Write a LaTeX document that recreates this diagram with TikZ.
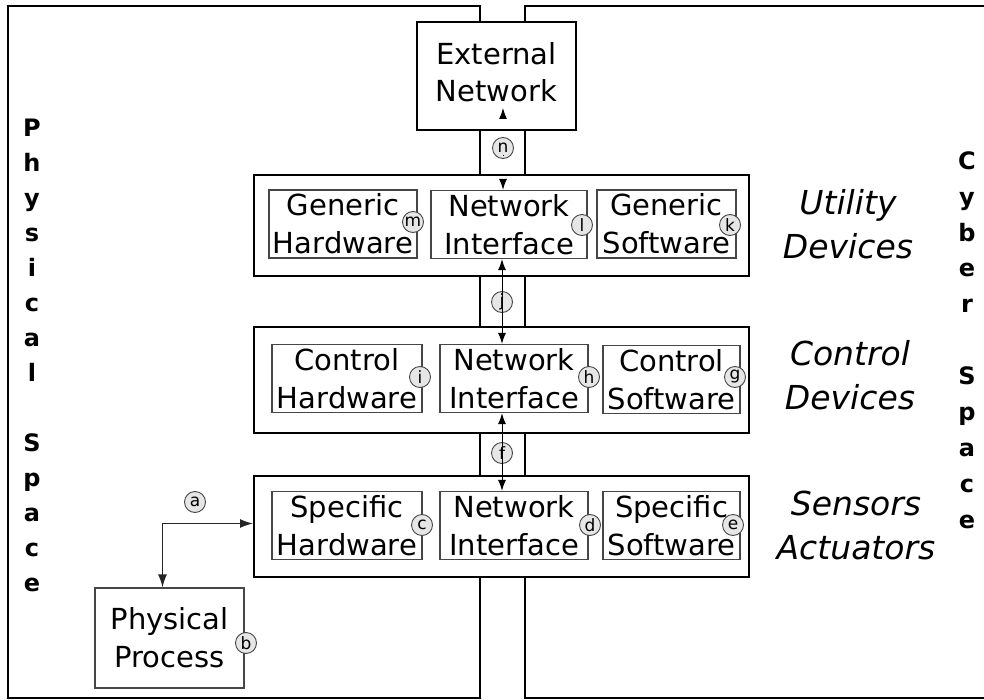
\documentclass[tikz,border=0pt]{standalone}
\usepackage{fontspec}
\setmainfont{DejaVu Sans}
\usetikzlibrary{arrows.meta}
\definecolor{tagGray}{RGB}{230,230,230}
\definecolor{lineGray}{RGB}{70,70,70}

\begin{document}
\begin{tikzpicture}[x=1pt,y=-1pt,
  layer/.style={draw,line width=2pt,fill=white,minimum width=495pt,inner sep=0pt},
  part/.style={draw=lineGray,line width=1.2pt,fill=white,align=center,inner sep=0pt,
    minimum height=68pt,font=\fontsize{29}{38}\selectfont},
  tag/.style={circle,draw=lineGray,fill=tagGray,line width=0.9pt,minimum size=21pt,
    inner sep=0pt,font=\fontsize{17}{17}\selectfont},
  arr/.style={{Latex[length=11pt,width=8pt]}-{Latex[length=11pt,width=8pt]},line width=1pt},
  side/.style={align=center,font=\fontsize{33}{44}\selectfont\itshape},
  space/.style={align=center,font=\fontsize{24}{35}\selectfont\bfseries}]
  \useasboundingbox (0,0) rectangle (984,700);
  \clip (0,0) rectangle (984,700);

  \draw[line width=2pt] (8,6) rectangle (480,698);
  \draw[line width=2pt] (525,6) rectangle (1000,698);

  \node[space] (phys) at (32,355) {P\\h\\y\\s\\i\\c\\a\\l\\\mbox{}\\S\\p\\a\\c\\e};
  \node[space,font=\fontsize{24}{35.9}\selectfont\bfseries] (cyber) at (967,340) {C\\y\\b\\e\\r\\\mbox{}\\S\\p\\a\\c\\e};

  \node[draw,line width=1.3pt,fill=white,minimum width=159pt,minimum height=108pt,
    align=center,text depth=8pt,font=\fontsize{29}{37}\selectfont] (ext) at (496.5,76) {External\\Network};

  \node[layer,minimum height=101pt] (util) at (501.5,225.5) {};
  \node[layer,minimum height=106pt] (ctrl) at (501.5,380) {};
  \node[layer,minimum height=101pt] (sens) at (501.5,526.5) {};

  \node[part,minimum width=148pt] (ghw) at (343,224) {Generic\\Hardware};
  \node[part,minimum width=156pt] (uni) at (509,224.5) {Network\\Interface};
  \node[part,minimum width=139pt] (gsw) at (666.5,224) {Generic\\Software};

  \node[part,minimum width=150pt] (chw) at (347,378.5) {Control\\Hardware};
  \node[part,minimum width=148pt] (cni) at (514,378.5) {Network\\Interface};
  \node[part,minimum width=137pt] (csw) at (671.5,379.5) {Control\\Software};

  \node[part,minimum width=150pt] (shw) at (347,525.5) {Specific\\Hardware};
  \node[part,minimum width=148pt] (sni) at (514,525.5) {Network\\Interface};
  \node[part,minimum width=137pt] (ssw) at (671.5,525.5) {Specific\\Software};

  \node[part,minimum width=149pt,minimum height=100pt] (proc) at (169.5,638) {Physical\\Process};

  \node[side] (lutil) at (848,224) {Utility\\Devices};
  \node[side] (lctrl) at (850,375) {Control\\Devices};
  \node[side] (lsens) at (856,525) {Sensors\\Actuators};

  \node[tag] (ta) at (195,502) {a};
  \node[tag] (tb) at (246,643) {b};
  \node[tag] (tc) at (422,525) {c};
  \node[tag] (td) at (590,525) {d};
  \node[tag] (te) at (733,525) {e};
  \node[tag] (tf) at (502,453) {f};
  \node[tag] (tg) at (735,377) {g};
  \node[tag] (th) at (589,377) {h};
  \node[tag] (ti) at (420,377) {i};
  \node[tag] (tj) at (502,302) {j};
  \node[tag] (tk) at (730,225) {k};
  \node[tag] (tl) at (582,225) {l};
  \node[tag] (tm) at (413,222) {m};
  \node[tag] (tn) at (503,148) {n};

  \coordinate (bus) at (502,0);
  \coordinate (extin) at (503,108);
  \draw[arr,dash pattern=on 1pt off 36pt] (extin) -- (extin |- uni.north);
  \draw[arr] (uni.south -| bus) -- (cni.north -| bus);
  \draw[arr] (sni.north -| bus) -- (cni.south -| bus);
  \draw[line width=1.4pt,draw=black!85,{Latex[length=13pt,width=9pt]}-{Latex[length=13pt,width=9pt]}]
    ([xshift=-7pt]proc.north) |- ([yshift=3pt]sens.west);
\end{tikzpicture}
\end{document}
